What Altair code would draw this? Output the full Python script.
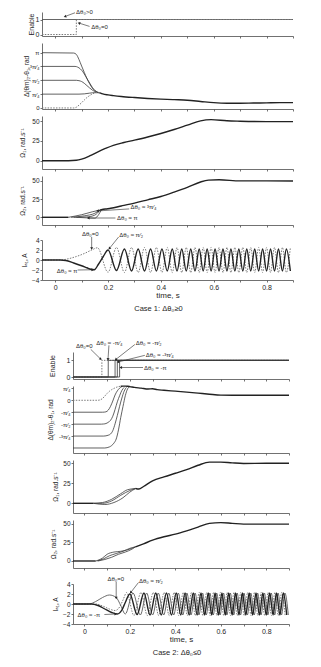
import math
import altair as alt
import pandas as pd

FONT = "Liberation Sans"
INK = "#262626"
AXIS_INK = "#4d4d4d"

# ---------------- shared axis data ----------------
T_DOMAIN = [-0.05, 0.9]
X_TICKS = [0, 0.1, 0.2, 0.3, 0.4, 0.5, 0.6, 0.7, 0.8, 0.9]
ENABLE_TICKS = [0, 1]
OMEGA_TICKS = [0, 25, 50]
CURRENT_TICKS = [-4, -2, 0, 2, 4]
DTH1_TICKS = [0, math.pi / 4, math.pi / 2, 3 * math.pi / 4, math.pi]
DTH1_LABELS = ["0", "π⁄₄", "π⁄₂", "³π⁄₄", "π"]
DTH2_TICKS = [-3 * math.pi / 4, -math.pi / 2, -math.pi / 4, 0, math.pi / 4]
DTH2_LABELS = ["-³π⁄₄", "-π⁄₂", "-π⁄₄", "0", "π⁄₄"]

# ---------------- Case 1 data ----------------
c1_en_pos_t = [-0.05, 0.9]
c1_en_pos_v = [1, 1]
c1_en_zero_t = [-0.05, 0.08, 0.08, 0.9]
c1_en_zero_v = [0, 0, 1, 1]

c1_dth_pi_t = [-0.05, 0.07, 0.08, 0.09, 0.10, 0.11, 0.12, 0.13, 0.14, 0.15, 0.16, 0.17]
c1_dth_pi_v = [3.14, 3.12, 3.04, 2.75, 2.38, 2.02, 1.67, 1.38, 1.14, 0.99, 0.90, 0.86]
c1_dth_3q_t = [-0.05, 0.075, 0.085, 0.095, 0.105, 0.115, 0.125, 0.135, 0.145, 0.155, 0.165, 0.17]
c1_dth_3q_v = [2.36, 2.36, 2.32, 2.22, 2.05, 1.80, 1.55, 1.30, 1.07, 0.93, 0.87, 0.86]
c1_dth_half_t = [-0.05, 0.08, 0.09, 0.10, 0.11, 0.12, 0.13, 0.14, 0.15, 0.16, 0.17]
c1_dth_half_v = [1.57, 1.57, 1.55, 1.50, 1.40, 1.27, 1.14, 1.02, 0.93, 0.88, 0.86]
c1_dth_q_t = [-0.05, 0.09, 0.11, 0.13, 0.15, 0.17]
c1_dth_q_v = [0.785, 0.785, 0.80, 0.84, 0.87, 0.86]
c1_dth_zero_t = [-0.05, 0.07, 0.08, 0.09, 0.10, 0.11, 0.12, 0.13, 0.14, 0.15, 0.16, 0.17]
c1_dth_zero_v = [0.0, 0.0, 0.04, 0.16, 0.30, 0.45, 0.59, 0.70, 0.79, 0.85, 0.88, 0.87]
c1_dth_common_t = [0.17, 0.18, 0.20, 0.22, 0.25, 0.30, 0.35, 0.40, 0.45, 0.50, 0.55, 0.60,
                   0.65, 0.70, 0.75, 0.80, 0.85, 0.90]
c1_dth_common_v = [0.86, 0.80, 0.74, 0.70, 0.65, 0.59, 0.54, 0.50, 0.47, 0.44, 0.37, 0.30,
                   0.27, 0.27, 0.28, 0.29, 0.30, 0.30]

c1_om1_t = [-0.05, 0.05, 0.08, 0.10, 0.13, 0.16, 0.19, 0.22, 0.26, 0.30, 0.35, 0.40, 0.45,
            0.50, 0.55, 0.59, 0.65, 0.70, 0.80, 0.90]
c1_om1_v = [0, 0, 0.5, 2, 6, 11, 15.5, 19.5, 23, 26, 30, 34.5, 39.5, 45, 50.5, 52, 50.5,
            50, 49.5, 49.5]

c1_om2_flat_t = [-0.05, 0.05]
c1_om2_flat_v = [0, 0]
c1_om2_fan1_t = [0.05, 0.10, 0.14, 0.17]
c1_om2_fan1_v = [0, 3.5, 7.5, 10]
c1_om2_fan2_t = [0.06, 0.11, 0.15, 0.17]
c1_om2_fan2_v = [0, 2, 5.5, 10]
c1_om2_fan3_t = [0.07, 0.12, 0.15, 0.17]
c1_om2_fan3_v = [0, 0.5, 3, 10]
c1_om2_fan4_t = [0.08, 0.12, 0.15, 0.165, 0.175]
c1_om2_fan4_v = [0, -0.8, -1.2, 4, 10.5]
c1_om2_main_t = [0.17, 0.19, 0.21, 0.25, 0.30, 0.35, 0.40, 0.45, 0.50, 0.55, 0.58, 0.62,
                 0.70, 0.80, 0.90]
c1_om2_main_v = [10, 11.3, 12.4, 15.5, 19.5, 24, 28.5, 34.5, 41, 48.5, 51, 51.5, 50, 50, 49.8]

OSC_A_T = [0.200, 0.232, 0.262, 0.289, 0.314, 0.338, 0.361, 0.383, 0.404, 0.424,
           0.443, 0.461, 0.479, 0.496, 0.513, 0.529, 0.545, 0.560, 0.575, 0.590,
           0.605, 0.620, 0.635, 0.650, 0.665, 0.680, 0.695, 0.710, 0.725, 0.740,
           0.755, 0.770, 0.785, 0.800, 0.815, 0.830, 0.845, 0.860, 0.875, 0.890]
OSC_B_T = [0.214, 0.246, 0.274, 0.300, 0.325, 0.349, 0.371, 0.393, 0.413, 0.433,
           0.451, 0.469, 0.487, 0.504, 0.520, 0.536, 0.552, 0.567, 0.582, 0.597,
           0.612, 0.627, 0.642, 0.657, 0.672, 0.687, 0.702, 0.717, 0.732, 0.747,
           0.762, 0.777, 0.792, 0.807, 0.822, 0.837, 0.852, 0.867, 0.882, 0.897]
OSC_C_T = [0.186, 0.218, 0.249, 0.277, 0.303, 0.327, 0.351, 0.373, 0.395, 0.415,
           0.435, 0.453, 0.471, 0.488, 0.505, 0.521, 0.538, 0.553, 0.568, 0.583,
           0.598, 0.613, 0.628, 0.643, 0.658, 0.673, 0.688, 0.703, 0.718, 0.733,
           0.748, 0.763, 0.778, 0.793, 0.808, 0.823, 0.838, 0.853, 0.868, 0.883]

OSC_DARK_V = [2.0, -2.1, 2.2, -2.2, 2.2, -2.2, 2.2, -2.2, 2.2, -2.2,
              2.2, -2.2, 2.2, -2.2, 2.2, -2.2, 2.2, -2.2, 2.2, -2.2,
              2.2, -2.2, 2.2, -2.2, 2.2, -2.2, 2.2, -2.2, 2.2, -2.2,
              2.2, -2.2, 2.2, -2.2, 2.2, -2.2, 2.2, -2.2, 2.2, -2.2]
OSC_LIGHT_V = [-2.45, 2.5, -2.5, 2.5, -2.5, 2.5, -2.5, 2.5, -2.5, 2.5,
               -2.5, 2.5, -2.5, 2.5, -2.5, 2.5, -2.5, 2.5, -2.5, 2.5,
               -2.5, 2.5, -2.5, 2.5, -2.5, 2.5, -2.5, 2.5, -2.5, 2.5,
               -2.5, 2.5, -2.5, 2.5, -2.5, 2.5, -2.5, 2.5, -2.5, 2.5]
OSC_MID_V = [2.2, -2.2, 2.2, -2.2, 2.2, -2.2, 2.2, -2.2, 2.2, -2.2,
             2.2, -2.2, 2.2, -2.2, 2.2, -2.2, 2.2, -2.2, 2.2, -2.2,
             2.2, -2.2, 2.2, -2.2, 2.2, -2.2, 2.2, -2.2, 2.2, -2.2,
             2.2, -2.2, 2.2, -2.2, 2.2, -2.2, 2.2, -2.2, 2.2, -2.2]
OSC_PALE_V = [2.3, -2.3, 2.3, -2.3, 2.3, -2.3, 2.3, -2.3, 2.3, -2.3,
              2.3, -2.3, 2.3, -2.3, 2.3, -2.3, 2.3, -2.3, 2.3, -2.3,
              2.3, -2.3, 2.3, -2.3, 2.3, -2.3, 2.3, -2.3, 2.3, -2.3,
              2.3, -2.3, 2.3, -2.3, 2.3, -2.3, 2.3, -2.3, 2.3, -2.3]

c1_ia_dark_pre_t = [-0.05, 0.02, 0.04, 0.07, 0.10, 0.12, 0.135, 0.148, 0.163, 0.182]
c1_ia_dark_pre_v = [0, 0, -0.1, -0.6, -1.15, -1.55, -1.85, -1.95, -0.9, 0.7]
c1_ia_light_pre_t = [-0.05, 0.02, 0.05, 0.08, 0.11, 0.14, 0.16]
c1_ia_light_pre_v = [0, 0, 0.25, 0.7, 1.3, 2.05, 2.45]

# ---------------- Case 2 data ----------------
c2_en_zero_t = [-0.05, 0.077, 0.077, 0.9]
c2_en_q1_t = [-0.05, 0.105, 0.105, 0.9]
c2_en_q2_t = [-0.05, 0.135, 0.135, 0.9]
c2_en_q3_t = [-0.05, 0.145, 0.145, 0.9]
c2_en_q4_t = [-0.05, 0.155, 0.155, 0.9]
c2_en_step_v = [0, 0, 1, 1]

c2_dth_zero_t = [-0.05, 0.06, 0.07, 0.08, 0.09, 0.10, 0.11, 0.12, 0.13, 0.14, 0.15, 0.16]
c2_dth_zero_v = [0, 0, 0.03, 0.12, 0.28, 0.45, 0.59, 0.70, 0.78, 0.85, 0.90, 0.92]
c2_dth_q1_t = [-0.05, 0.08, 0.095, 0.105, 0.115, 0.125, 0.135, 0.145, 0.155, 0.165]
c2_dth_q1_v = [-0.785, -0.785, -0.76, -0.65, -0.40, -0.05, 0.35, 0.62, 0.80, 0.90]
c2_dth_q2_t = [-0.05, 0.075, 0.085, 0.095, 0.105, 0.115, 0.125, 0.135, 0.145, 0.155, 0.165, 0.175]
c2_dth_q2_v = [-1.571, -1.571, -1.56, -1.53, -1.45, -1.32, -1.05, -0.60, -0.10, 0.30, 0.65, 0.85]
c2_dth_q3_t = [-0.05, 0.085, 0.095, 0.105, 0.115, 0.125, 0.135, 0.145, 0.155, 0.165, 0.175, 0.185]
c2_dth_q3_v = [-2.356, -2.356, -2.34, -2.30, -2.22, -2.00, -1.55, -1.00, -0.40, 0.15, 0.60, 0.85]
c2_dth_pi_t = [-0.05, 0.09, 0.10, 0.11, 0.12, 0.13, 0.14, 0.15, 0.16, 0.17, 0.18, 0.19, 0.20]
c2_dth_pi_v = [-3.14, -3.14, -3.12, -3.07, -2.98, -2.82, -2.55, -1.95, -1.13, -0.40, 0.30, 0.75, 0.90]
c2_dth_common_t = [0.16, 0.17, 0.18, 0.19, 0.20, 0.22, 0.25, 0.28, 0.30, 0.32, 0.35, 0.40,
                   0.45, 0.50, 0.55, 0.60, 0.65, 0.70, 0.75, 0.80, 0.85, 0.90]
c2_dth_common_v = [0.92, 0.93, 0.93, 0.92, 0.90, 0.85, 0.80, 0.74, 0.76, 0.70, 0.66, 0.60,
                   0.54, 0.47, 0.40, 0.34, 0.33, 0.33, 0.33, 0.33, 0.33, 0.33]

c2_om1_flat_t = [-0.05, 0.04]
c2_om1_flat_v = [0, 0]
c2_om1_fan1_t = [0.04, 0.09, 0.13, 0.17, 0.20, 0.225]
c2_om1_fan1_v = [0, -1.5, 1, 7, 14, 18.5]
c2_om1_fan2_t = [0.04, 0.08, 0.12, 0.16, 0.20, 0.225]
c2_om1_fan2_v = [0, 0, 3, 10, 16, 18.5]
c2_om1_fan3_t = [0.04, 0.08, 0.12, 0.16, 0.19, 0.225]
c2_om1_fan3_v = [0, 1, 5, 12, 17, 18.5]
c2_om1_main_t = [0.225, 0.24, 0.26, 0.30, 0.35, 0.40, 0.45, 0.50, 0.55, 0.60, 0.65, 0.70, 0.80, 0.90]
c2_om1_main_v = [18.5, 17.8, 21, 28, 33, 37.5, 42, 47.5, 51.5, 51.5, 50.5, 49.8, 50, 50]

c2_om2_flat_t = [-0.05, 0.05]
c2_om2_flat_v = [0, 0]
c2_om2_fan1_t = [0.05, 0.08, 0.10, 0.13, 0.16, 0.19, 0.225]
c2_om2_fan1_v = [0, 4, 9, 12, 13, 15, 19]
c2_om2_fan2_t = [0.055, 0.085, 0.11, 0.14, 0.17, 0.20, 0.225]
c2_om2_fan2_v = [0, 3, 7, 10, 13, 17, 19]
c2_om2_fan3_t = [0.06, 0.09, 0.12, 0.15, 0.18, 0.21, 0.225]
c2_om2_fan3_v = [0, 2, 5, 9, 12, 16, 19]
c2_om2_main_t = [0.225, 0.26, 0.30, 0.35, 0.40, 0.45, 0.50, 0.55, 0.60, 0.65, 0.70, 0.80, 0.90]
c2_om2_main_v = [19, 23, 28, 32.5, 36, 40.5, 45.5, 50.5, 51.5, 50.5, 49.5, 49.5, 49.5]

c2_ia_dark_pre_t = [-0.05, 0.03, 0.06, 0.09, 0.12, 0.145, 0.165, 0.18]
c2_ia_dark_pre_v = [0, 0, -0.3, -1.0, -1.7, -2.0, -1.2, 0.3]
c2_ia_mid_pre_t = [-0.05, 0.02, 0.05, 0.08, 0.11, 0.14, 0.16, 0.18]
c2_ia_mid_pre_v = [0, 0, 0.5, 1.3, 1.8, 1.3, -0.3, -2.0]
c2_ia_pale_pre_t = [-0.05, 0.05, 0.08, 0.11, 0.135, 0.155, 0.17]
c2_ia_pale_pre_v = [0, 0, -0.4, -1.0, -1.3, -0.6, 0.8]

# annotations: label, text t, text v, align, arrow from t, v, arrow to t, v
c1_en_notes = [("Δθ₀>0", 0.079, 1.52, "left", 0.075, 1.45, 0.037, 1.20),
               ("Δθ₀=0", 0.136, 0.52, "left", 0.130, 0.54, 0.090, 0.76)]
c1_om2_notes = [("Δθ₀ ≈ ³π⁄₄", 0.285, 13.5, "left", 0.280, 11.5, 0.160, 8.7),
                ("Δθ₀ ≈ π", 0.234, -1.0, "left", 0.228, -1.0, 0.125, -1.0)]
c1_ia_notes = [("Δθ₀=0", 0.133, 5.3, "center", 0.138, 4.6, 0.138, 2.3),
               ("Δθ₀ ≈ π⁄₂", 0.242, 5.1, "left", 0.240, 4.6, 0.205, 2.3),
               ("Δθ₀ ≈ π", 0.006, -2.1, "left", 0.085, -2.0, 0.142, -1.95)]
c2_en_notes = [("Δθ₀=0", 0.0, 1.85, "center", 0.028, 1.66, 0.072, 1.07),
               ("Δθ₀ ≈ -π⁄₄", 0.11, 2.05, "center", 0.108, 1.9, 0.104, 1.05),
               ("Δθ₀ ≈ -π⁄₂", 0.226, 2.05, "left", 0.222, 1.95, 0.138, 1.05),
               ("Δθ₀ ≈ -³π⁄₄", 0.27, 1.32, "left", 0.266, 1.3, 0.148, 0.9),
               ("Δθ₀ ≈ -π", 0.262, 0.57, "left", 0.258, 0.57, 0.160, 0.57)]
c2_ia_notes = [("Δθ₀=0", 0.138, 5.0, "center", 0.14, 4.4, 0.14, 1.2),
               ("Δθ₀ ≈ π⁄₂", 0.24, 4.7, "left", 0.238, 4.3, 0.204, 2.3),
               ("Δθ₀ ≈ -π", -0.03, -2.1, "left", 0.088, -2.1, 0.138, -2.0)]

CAPTION1 = "Case 1: Δθ₀≥0"
CAPTION2 = "Case 2: Δθ₀≤0"

# ---------------- styles ----------------
S_DARK = dict(color="#222222", strokeWidth=1.4)
S_THIN = dict(color="#3a3a3a", strokeWidth=0.8)
S_MID = dict(color="#5a5a5a", strokeWidth=0.9)
S_DOT = dict(color="#7a7a7a", strokeWidth=1.0, strokeDash=[1.5, 1.3])
S_GRAY = dict(color="#555555", strokeWidth=0.9)


def label_expr(vals, labs):
    parts = [f"abs(datum.value - ({v:.6f})) < 0.01 ? '{l}'" for v, l in zip(vals, labs)]
    return " : ".join(parts) + " : ''"


def x_axis(bottom):
    kw = dict(values=X_TICKS, grid=False, tickSize=2, labelPadding=1, domainWidth=0.8, tickWidth=0.8)
    if bottom:
        kw.update(labels=True, title="time, s", titlePadding=1, labelFontSize=7, titleFontSize=8,
                  labelExpr="round(datum.value * 10) % 2 == 0 ? (datum.value == 0 ? '0' : format(datum.value, '.1f')) : ''")
    else:
        kw.update(labels=False, title=None)
    return alt.Axis(**kw)


def y_axis(values, title, tpad, size=6.5, labels=None, tsize=7):
    kw = dict(values=values, title=title, titlePadding=tpad, grid=False, tickSize=2, labelPadding=1,
              minExtent=0, labelFontSize=size, labelOverlap=False, labelFlush=False,
              titleFontSize=tsize, domainWidth=0.8, tickWidth=0.8)
    if labels:
        kw["labelExpr"] = label_expr(values, labels)
    return alt.Axis(**kw)


def panel(series, w, h, ydom, yax, bottom, notes=None, interp="monotone", caption=None, cap_dx=0):
    X = alt.X("t:Q", scale=alt.Scale(domain=T_DOMAIN, nice=False, zero=False), axis=x_axis(bottom))
    Y = alt.Y("v:Q", scale=alt.Scale(domain=ydom, nice=False, zero=False), axis=yax)
    layers = []
    for t, v, style in series:
        df = pd.DataFrame({"t": t, "v": v, "i": list(range(len(t)))})
        layers.append(alt.Chart(df).mark_line(interpolate=interp, clip=False, **style)
                      .encode(x=X, y=Y, order=alt.Order("i:Q")))
    if notes:
        for align in ("left", "center"):
            rows = [{"t": n[1], "v": n[2], "label": n[0]} for n in notes if n[3] == align]
            if rows:
                layers.append(alt.Chart(pd.DataFrame(rows)).mark_text(
                    align=align, baseline="middle", font=FONT, fontSize=6, color=INK, clip=False)
                    .encode(x=X, y=Y, text="label:N"))
        segs = pd.DataFrame([{"t": n[4], "v": n[5], "t2": n[6], "v2": n[7]} for n in notes])
        layers.append(alt.Chart(segs).mark_rule(color=INK, strokeWidth=0.6, clip=False)
                      .encode(x=X, y=Y, x2=alt.X2("t2"), y2=alt.Y2("v2")))
        px_t = w / (T_DOMAIN[1] - T_DOMAIN[0])
        px_v = h / (ydom[1] - ydom[0])
        heads = []
        for n in notes:
            dx = (n[6] - n[4]) * px_t
            dy = -(n[7] - n[5]) * px_v
            heads.append({"t": n[6], "v": n[7], "ang": math.degrees(math.atan2(dx, -dy)) % 360})
        layers.append(alt.Chart(pd.DataFrame(heads)).mark_point(
            shape="triangle-up", filled=True, size=9, color=INK, opacity=1, clip=False)
            .encode(x=X, y=Y, angle=alt.Angle("ang:Q", scale=None)))
    ch = alt.layer(*layers).properties(width=w, height=h)
    if caption:
        ch = ch.properties(title=alt.TitleParams(caption, orient="bottom", anchor="middle", offset=6,
                                                 fontSize=7.5, font=FONT, fontWeight="normal",
                                                 color=INK, dx=cap_dx))
    return ch


def spacer(w, h):
    return alt.Chart(pd.DataFrame({"a": [0]})).mark_point(opacity=0, size=1).encode(
        x=alt.value(0), y=alt.value(0)).properties(width=w, height=h)


W1, W2 = 251, 216

# ---------------- Case 1 panels ----------------
en1 = panel([(c1_en_pos_t, c1_en_pos_v, S_GRAY), (c1_en_zero_t, c1_en_zero_v, S_DOT)],
            W1, 24, [-0.1, 1.5], y_axis(ENABLE_TICKS, "Enable", 1, size=7), False,
            notes=c1_en_notes, interp="linear")
dth1 = panel([(c1_dth_pi_t, c1_dth_pi_v, S_THIN), (c1_dth_3q_t, c1_dth_3q_v, S_THIN),
              (c1_dth_half_t, c1_dth_half_v, S_THIN), (c1_dth_q_t, c1_dth_q_v, S_THIN),
              (c1_dth_zero_t, c1_dth_zero_v, S_DOT), (c1_dth_common_t, c1_dth_common_v, S_DARK)],
             W1, 66, [-0.06, 3.69],
             y_axis(DTH1_TICKS, "Δ(θm)₂-θ₁, rad", 0, size=6, labels=DTH1_LABELS, tsize=6.5), False)
om11 = panel([(c1_om1_t, c1_om1_v, S_DARK)], W1, 53, [-10.5, 56.6],
             y_axis(OMEGA_TICKS, "Ω₁, rad.s⁻¹", 5.8, tsize=6.5), False)
om21 = panel([(c1_om2_flat_t, c1_om2_flat_v, S_DARK), (c1_om2_fan1_t, c1_om2_fan1_v, S_THIN),
              (c1_om2_fan2_t, c1_om2_fan2_v, S_THIN), (c1_om2_fan3_t, c1_om2_fan3_v, S_THIN),
              (c1_om2_fan4_t, c1_om2_fan4_v, S_THIN), (c1_om2_main_t, c1_om2_main_v, S_DARK)],
             W1, 49, [-10.6, 56.7], y_axis(OMEGA_TICKS, "Ω₂, rad.s⁻¹", 5.8, tsize=6.5), False,
             notes=c1_om2_notes)
ia1 = panel([(c1_ia_light_pre_t + OSC_A_T, c1_ia_light_pre_v + OSC_LIGHT_V, S_DOT),
             (c1_ia_dark_pre_t + OSC_A_T, c1_ia_dark_pre_v + OSC_DARK_V, S_DARK)],
            W1, 40, [-4, 4], y_axis(CURRENT_TICKS, "Iₐ₁, A", 4.4, tsize=6.5), True,
            notes=c1_ia_notes, caption=CAPTION1, cap_dx=-9)

# ---------------- Case 2 panels ----------------
en2 = panel([(c2_en_zero_t, c2_en_step_v, S_DOT), (c2_en_q1_t, c2_en_step_v, S_THIN),
             (c2_en_q2_t, c2_en_step_v, S_THIN), (c2_en_q3_t, c2_en_step_v, S_THIN),
             (c2_en_q4_t, c2_en_step_v, S_THIN)],
            W2, 27, [-0.12, 1.5], y_axis(ENABLE_TICKS, "Enable", 10.9, size=7), False,
            notes=c2_en_notes, interp="linear")
dth2 = panel([(c2_dth_zero_t, c2_dth_zero_v, S_DOT), (c2_dth_q1_t, c2_dth_q1_v, S_THIN),
              (c2_dth_q2_t, c2_dth_q2_v, S_THIN), (c2_dth_q3_t, c2_dth_q3_v, S_THIN),
              (c2_dth_pi_t, c2_dth_pi_v, S_THIN), (c2_dth_common_t, c2_dth_common_v, S_DARK)],
             W2, 67, [-3.47, 0.94],
             y_axis(DTH2_TICKS, "Δ(θm)₂-θ₁, rad", 5, size=6, labels=DTH2_LABELS, tsize=6.5), False)
om12 = panel([(c2_om1_flat_t, c2_om1_flat_v, S_DARK), (c2_om1_fan1_t, c2_om1_fan1_v, S_THIN),
              (c2_om1_fan2_t, c2_om1_fan2_v, S_THIN), (c2_om1_fan3_t, c2_om1_fan3_v, S_THIN),
              (c2_om1_main_t, c2_om1_main_v, S_DARK)],
             W2, 53, [-12.1, 54.1], y_axis(OMEGA_TICKS, "Ω₁, rad.s⁻¹", 3.8, tsize=6.5), False)
om22 = panel([(c2_om2_flat_t, c2_om2_flat_v, S_DARK), (c2_om2_fan1_t, c2_om2_fan1_v, S_THIN),
              (c2_om2_fan2_t, c2_om2_fan2_v, S_THIN), (c2_om2_fan3_t, c2_om2_fan3_v, S_THIN),
              (c2_om2_main_t, c2_om2_main_v, S_DARK)],
             W2, 48, [-9.4, 55], y_axis(OMEGA_TICKS, "Ω₂, rad.s⁻¹", 6.3, tsize=6.5), False)
ia2 = panel([(c2_ia_pale_pre_t + OSC_C_T, c2_ia_pale_pre_v + OSC_PALE_V, S_DOT),
             (c2_ia_mid_pre_t + OSC_B_T, c2_ia_mid_pre_v + OSC_MID_V, S_MID),
             (c2_ia_dark_pre_t + OSC_A_T, c2_ia_dark_pre_v + OSC_DARK_V, S_DARK)],
            W2, 40, [-4, 4], y_axis(CURRENT_TICKS, "Iₐ₁, A", 4.4, tsize=6.5), True,
            notes=c2_ia_notes, caption=CAPTION2, cap_dx=-4)

case1 = alt.vconcat(en1, dth1, om11, om21, spacer(W1, 1), ia1, spacing=7, bounds="flush")
case2_stack = alt.vconcat(en2, dth2, om12, om22, spacer(W2, 2), ia2, spacing=7, bounds="flush")
case2 = alt.hconcat(spacer(5, 1), case2_stack, spacing=0)

chart = (
    alt.vconcat(case1, case2, spacing=26)
    .properties(padding={"left": 19, "top": 8, "right": 4, "bottom": 4}, background="white")
    .configure_view(stroke=None)
    .configure_axis(labelFont=FONT, titleFont=FONT, labelColor=INK, titleColor=INK,
                    domainColor=AXIS_INK, tickColor=AXIS_INK, titleFontWeight="normal")
)

chart.save("out.html", embed_options={"renderer": "svg", "actions": False})
